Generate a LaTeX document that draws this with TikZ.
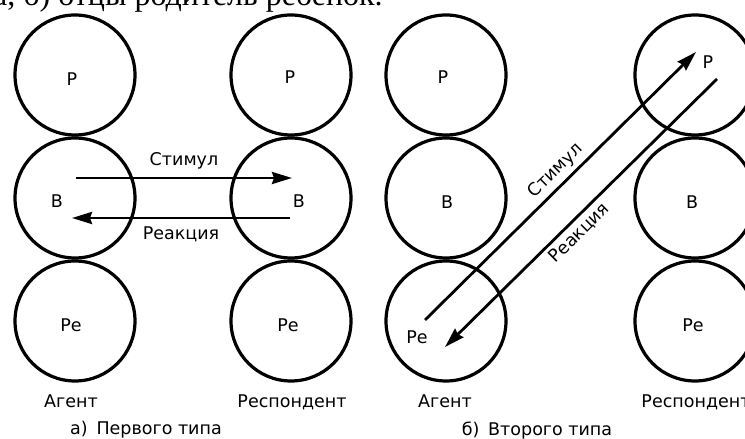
\documentclass[tikz,border=0pt]{standalone}
\usepackage{fontspec}
\setmainfont{DejaVu Sans}
\newfontfamily\pageserif{Liberation Serif}
\usetikzlibrary{arrows.meta,calc}
\begin{document}
\begin{tikzpicture}[x=1pt, y=1pt,
  ego/.style={draw, circle, line width=3.2pt, minimum size=120pt, inner sep=0pt},
  arr/.style={line width=2.8pt, -{Stealth[length=20pt,width=12pt,inset=2pt]}},
  every node/.style={font=\fontsize{17.5}{20}\selectfont}]
  \clip (0,0) rectangle (745,439);
  % cut line of the page text
  \node[anchor=base west, inner sep=0pt, font=\pageserif\fontsize{32}{36}\selectfont] (page) at (-7,433) {а, б) отцы родитель ребенок.};
  % a) first type
  \node[ego] (aP1) at (75,364) {};
  \node[ego] (aB1) at (75,241) {};
  \node[ego] (aPe1) at (75,118) {};
  \node[ego] (aP2) at (291,364) {};
  \node[ego] (aB2) at (291,241) {};
  \node[ego] (aPe2) at (291,118) {};
  \node at ($(aP1)+(-3,-4)$) {Р};
  \node at ($(aB1)+(-18,-3)$) {В};
  \node at ($(aPe1)+(-4,-4)$) {Ре};
  \node at ($(aP2)+(-1,-2)$) {Р};
  \node at ($(aB2)+(8,-3)$) {В};
  \node at ($(aPe2)+(-3,-4)$) {Ре};
  \draw[arr] ($(aB1)+(1,20)$) -- node[above=4pt] {Стимул} ($(aB2)+(1,20)$);
  \draw[arr] ($(aB2)+(-1,-20)$) -- node[below=4pt] {Реакция} ($(aB1)+(-3,-20)$);
  \node (ag1) at (71,38) {Агент};
  \node (rs1) at (292,37) {Респондент};
  \node (capa) at (146,9) {а)\enspace Первого типа};
  % b) second type
  \node[ego] (bP1) at (446,364) {};
  \node[ego] (bB1) at (446,241) {};
  \node[ego] (bPe1) at (446,118) {};
  \node[ego] (bP2) at (695,364) {};
  \node[ego] (bB2) at (695,241) {};
  \node[ego] (bPe2) at (695,118) {};
  \node at ($(bP1)+(-3,-2)$) {Р};
  \node at ($(bB1)+(1,-4)$) {В};
  \node at ($(bPe1)+(-29,-16)$) {Ре};
  \node at ($(bP2)+(13,13)$) {Р};
  \node at ($(bB2)+(-3,-4)$) {В};
  \node at ($(bPe2)+(-2,-4)$) {Ре};
  \draw[arr] ($(bPe1)+(-21,1)$) -- node[pos=0.52, sloped, above=1pt] {Стимул} ($(bP2)+(1,23)$);
  \draw[arr] ($(bP2)+(22,-4)$) -- node[pos=0.54, sloped, below=1pt] {Реакция} ($(bPe1)+(-1,-26)$);
  \node (ag2) at (445,38) {Агент};
  \node (rs2) at (696,37) {Респондент};
  \node (capb) at (537,8) {б)\enspace Второго типа};
\end{tikzpicture}
\end{document}
